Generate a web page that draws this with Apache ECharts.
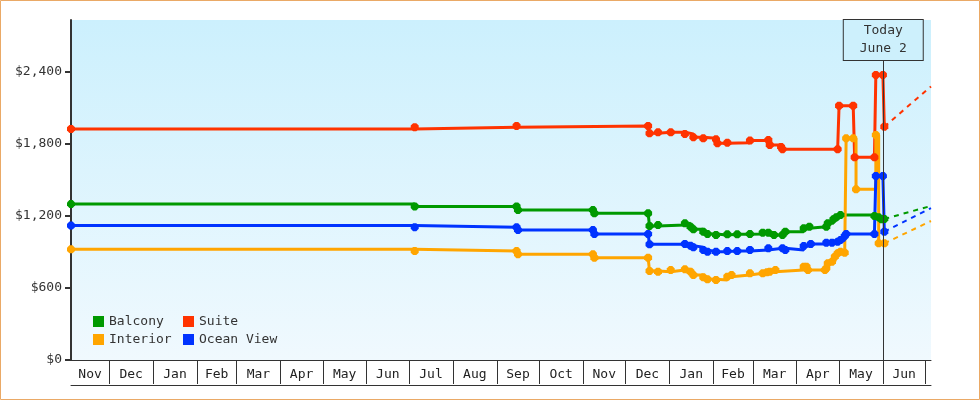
<!DOCTYPE html>
<html>
<head>
    <meta charset="utf-8">
    <title>Cabin Price History</title>
    <script src="https://cdn.jsdelivr.net/npm/echarts@6.0.0/dist/echarts.min.js"></script>
    <style>
        body { margin: 0; padding: 0; background: #fff; }
        #chart { width: 980px; height: 400px; }
    </style>
</head>
<body>
    <div id="chart"></div>
    <script>
        // price observations [date, price]
        const balcony = [
            ['2021-11-04', 1300], ['2022-07-05', 1280], ['2022-09-15', 1280], ['2022-09-16', 1250],
            ['2022-11-08', 1250], ['2022-11-09', 1222], ['2022-12-17', 1222], ['2022-12-18', 1117],
            ['2022-12-24', 1125], ['2023-01-12', 1139], ['2023-01-16', 1111], ['2023-01-18', 1089],
            ['2023-01-25', 1069], ['2023-01-28', 1050], ['2023-02-03', 1042], ['2023-02-11', 1047],
            ['2023-02-18', 1047], ['2023-02-27', 1050], ['2023-03-08', 1061], ['2023-03-12', 1061],
            ['2023-03-16', 1042], ['2023-03-22', 1042], ['2023-03-24', 1069], ['2023-04-06', 1097],
            ['2023-04-10', 1111], ['2023-04-22', 1111], ['2023-04-23', 1139], ['2023-04-27', 1172],
            ['2023-04-29', 1189], ['2023-05-02', 1208], ['2023-05-26', 1200], ['2023-05-29', 1189],
            ['2023-05-31', 1172], ['2023-06-02', 1175]
        ];
        const suite = [
            ['2021-11-04', 1925], ['2022-07-05', 1940], ['2022-09-15', 1950], ['2022-12-17', 1950],
            ['2022-12-18', 1889], ['2022-12-24', 1897], ['2023-01-02', 1897], ['2023-01-12', 1883],
            ['2023-01-18', 1856], ['2023-01-25', 1847], ['2023-02-03', 1839], ['2023-02-04', 1806],
            ['2023-02-11', 1811], ['2023-02-27', 1828], ['2023-03-12', 1833], ['2023-03-13', 1792],
            ['2023-03-21', 1775], ['2023-03-22', 1756], ['2023-04-30', 1756], ['2023-05-01', 2119],
            ['2023-05-11', 2119], ['2023-05-12', 1689], ['2023-05-26', 1689], ['2023-05-27', 2375],
            ['2023-06-01', 2375], ['2023-06-02', 1944]
        ];
        const interior = [
            ['2021-11-04', 922], ['2022-07-05', 908], ['2022-09-15', 908], ['2022-09-16', 881],
            ['2022-11-08', 881], ['2022-11-09', 853], ['2022-12-17', 853], ['2022-12-18', 742],
            ['2022-12-24', 736], ['2023-01-02', 750], ['2023-01-12', 756], ['2023-01-16', 736],
            ['2023-01-18', 708], ['2023-01-25', 689], ['2023-01-28', 672], ['2023-02-03', 667],
            ['2023-02-11', 694], ['2023-02-14', 708], ['2023-02-27', 722], ['2023-03-08', 722],
            ['2023-03-11', 731], ['2023-03-13', 736], ['2023-03-17', 750], ['2023-04-06', 778],
            ['2023-04-08', 778], ['2023-04-09', 750], ['2023-04-21', 750], ['2023-04-22', 764],
            ['2023-04-23', 806], ['2023-04-26', 819], ['2023-04-28', 861], ['2023-04-30', 889],
            ['2023-05-02', 903], ['2023-05-05', 894], ['2023-05-06', 1847], ['2023-05-11', 1847],
            ['2023-05-13', 1422], ['2023-05-27', 1875], ['2023-05-29', 972], ['2023-06-02', 972]
        ];
        const oceanView = [
            ['2021-11-04', 1120], ['2022-07-05', 1106], ['2022-09-15', 1106], ['2022-09-16', 1083],
            ['2022-11-08', 1083], ['2022-11-09', 1050], ['2022-12-17', 1050], ['2022-12-18', 964],
            ['2023-01-12', 967], ['2023-01-16', 953], ['2023-01-18', 939], ['2023-01-25', 917],
            ['2023-01-28', 903], ['2023-02-03', 903], ['2023-02-11', 908], ['2023-02-18', 908],
            ['2023-02-27', 917], ['2023-03-12', 931], ['2023-03-22', 931], ['2023-03-24', 917],
            ['2023-04-06', 950], ['2023-04-11', 967], ['2023-04-22', 978], ['2023-04-26', 978],
            ['2023-04-30', 986], ['2023-05-02', 1000], ['2023-05-05', 1033], ['2023-05-06', 1050],
            ['2023-05-26', 1050], ['2023-05-27', 1533], ['2023-06-01', 1533], ['2023-06-02', 1069]
        ];

        // projected price at the right edge
        const forecastEnd = { Balcony: 1284, Suite: 2279, Interior: 1158, 'Ocean View': 1266 };

        const seriesNames = ['Balcony', 'Suite', 'Interior', 'Ocean View'];
        const seriesColors = ['#009900', '#ff3300', '#ffa500', '#0033ff'];
        const monthNames = ['Jan', 'Feb', 'Mar', 'Apr', 'May', 'Jun', 'Jul', 'Aug', 'Sep', 'Oct', 'Nov', 'Dec'];
        const yTicks = [0, 600, 1200, 1800, 2400];

        const xStart = '2021-11-04';
        const xEnd = '2023-07-05';
        const todayDate = '2023-06-01';
        const todayText = 'Today\nJune 2';

        const FONT = 'DejaVu Sans Mono';

        function ts(s) {
            const p = s.split('-').map(Number);
            return new Date(p[0], p[1] - 1, p[2]).getTime();
        }

        // month boundaries for the boxes under the axis
        const bounds = [ts(xStart)];
        for (let y = 2021, m = 11; y < 2023 || m <= 6; ) {
            bounds.push(new Date(y, m, 1).getTime());
            m++;
            if (m > 11) { m = 0; y++; }
        }
        const monthTicks = bounds.slice(1);
        const monthCenters = [];
        for (let i = 0; i < bounds.length - 1; i++) monthCenters.push((bounds[i] + bounds[i + 1]) / 2);

        const octagon = 'path://M3,0 L7,0 L10,3 L10,7 L7,10 L3,10 L0,7 L0,3 Z';

        const allData = [balcony, suite, interior, oceanView];
        const series = [];
        allData.forEach((d, i) => {
            series.push({
                name: seriesNames[i],
                type: 'line',
                step: 'end',
                clip: false,
                data: d.map(p => [ts(p[0]), p[1]]),
                symbol: octagon,
                symbolSize: 8,
                itemStyle: { color: seriesColors[i] },
                lineStyle: { color: seriesColors[i], width: 3 },
                z: 3
            });
        });
        allData.forEach((d, i) => {
            const last = d[d.length - 1];
            series.push({
                name: seriesNames[i] + ' forecast',
                type: 'line',
                clip: false,
                data: [[ts(last[0]), last[1]], [ts(xEnd), forecastEnd[seriesNames[i]]]],
                symbol: 'none',
                lineStyle: { color: seriesColors[i], width: 2, type: [5, 5] },
                z: 2
            });
        });
        const todayTs = ts(todayDate) + 6 * 3600 * 1000;
        series.push({
            name: 'today',
            type: 'line',
            data: [],
            markLine: {
                silent: true,
                symbol: ['none', 'none'],
                lineStyle: { color: '#333', width: 1, type: 'solid' },
                label: {
                    show: true,
                    position: 'end',
                    distance: 0,
                    formatter: todayText,
                    fontFamily: FONT,
                    fontSize: 13,
                    color: '#333',
                    lineHeight: 18,
                    align: 'center',
                    backgroundColor: '#cdf0fc',
                    borderColor: '#333',
                    borderWidth: 1,
                    padding: [2, 16, 2, 16]
                },
                data: [[{ coord: [todayTs, 0] }, { coord: [todayTs, 2500] }]]
            }
        });

        const chart = echarts.init(document.getElementById('chart'));
        chart.setOption({
            animation: false,
            graphic: [{
                type: 'rect',
                silent: true,
                shape: { x: 0.5, y: 0.5, width: 979, height: 399 },
                style: { fill: 'none', stroke: '#eaa966', lineWidth: 1 }
            }],
            grid: {
                left: 71, right: 49, top: 20, bottom: 40,
                show: true,
                borderWidth: 0,
                backgroundColor: {
                    type: 'linear', x: 0, y: 0, x2: 0, y2: 1,
                    colorStops: [{ offset: 0, color: '#ccf0fd' }, { offset: 1, color: '#f0f9fe' }]
                }
            },
            legend: [
                {
                    data: ['Balcony', 'Interior'],
                    orient: 'vertical', left: 93, top: 315, padding: 0,
                    itemWidth: 11, itemHeight: 11, itemGap: 5, icon: 'rect',
                    textStyle: { fontFamily: FONT, fontSize: 13, color: '#333' }
                },
                {
                    data: ['Suite', 'Ocean View'],
                    orient: 'vertical', left: 183, top: 315, padding: 0,
                    itemWidth: 11, itemHeight: 11, itemGap: 5, icon: 'rect',
                    textStyle: { fontFamily: FONT, fontSize: 13, color: '#333' }
                }
            ],
            xAxis: [
                {
                    type: 'value',
                    position: 'bottom',
                    min: ts(xStart), max: ts(xEnd),
                    axisLine: { show: true, lineStyle: { color: '#333', width: 1 } },
                    axisTick: { show: true, length: 24, lineStyle: { color: '#333', width: 1 }, customValues: monthTicks },
                    axisLabel: {
                        customValues: monthCenters,
                        formatter: v => monthNames[new Date(v).getMonth()],
                        fontFamily: FONT, fontSize: 13, color: '#222', margin: 8
                    },
                    splitLine: { show: false }
                },
                {
                    type: 'value',
                    position: 'bottom',
                    offset: 25,
                    min: ts(xStart), max: ts(xEnd),
                    axisLine: { show: true, lineStyle: { color: '#333', width: 1 } },
                    axisTick: { show: false },
                    axisLabel: { show: false },
                    splitLine: { show: false }
                }
            ],
            yAxis: {
                type: 'value',
                min: 0, max: 2833,
                axisLine: { show: true, lineStyle: { color: '#333', width: 2 } },
                axisTick: { show: true, length: 6, lineStyle: { color: '#333', width: 2 }, customValues: yTicks },
                axisLabel: {
                    customValues: yTicks,
                    formatter: v => '$' + Number(v).toLocaleString('en-US'),
                    fontFamily: FONT, fontSize: 13, color: '#333', margin: 9
                },
                splitLine: { show: false }
            },
            series: series
        });
    </script>
</body>
</html>
